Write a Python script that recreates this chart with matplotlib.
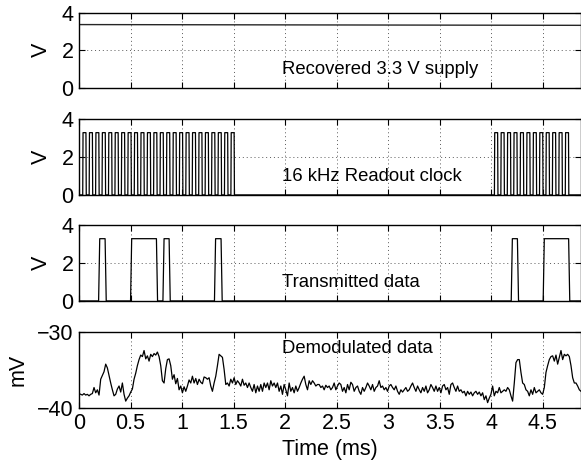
import numpy as np
import matplotlib
matplotlib.use("Agg")
import matplotlib.pyplot as plt

plt.rcParams['font.family'] = ['Liberation Sans', 'DejaVu Sans']
plt.rcParams['font.size'] = 15

# ---------------- data ----------------
x_ticks = [0, 0.5, 1, 1.5, 2, 2.5, 3, 3.5, 4, 4.5]
x_tick_labels = ['0', '0.5', '1', '1.5', '2', '2.5', '3', '3.5', '4', '4.5']
x_max = 4.87

supply_t = [0.0, 4.87]
supply_v = [3.36, 3.32]

clock_high = 3.3
clock_half_period = 0.03125
clock_rising = [0.036, 0.0985, 0.161, 0.2235, 0.286, 0.3485, 0.411, 0.4735,
                0.536, 0.5985, 0.661, 0.7235, 0.786, 0.8485, 0.911, 0.9735,
                1.036, 1.0985, 1.161, 1.2235, 1.286, 1.3485, 1.411, 1.4735,
                4.03, 4.0925, 4.155, 4.2175, 4.28, 4.3425, 4.405, 4.4675,
                4.53, 4.5925, 4.655, 4.7175]

data_high = 3.3
data_start = [0.19, 0.50, 0.814, 1.314, 4.193, 4.503]
data_end = [0.264, 0.762, 0.885, 1.389, 4.264, 4.761]

demod_mv = [
    -38.1, -38.2, -38.3, -38.1, -38.3, -38.2, -38.4, -38.2, -38.1, -37.3,
    -38.0, -37.6, -38.3, -36.2, -35.7, -35.2, -34.2, -34.7, -35.7, -36.7,
    -37.6, -38.4, -38.2, -37.5, -37.1, -37.9, -36.7, -38.2, -39.1, -38.7,
    -38.4, -37.9, -37.5, -36.2, -35.4, -34.4, -33.6, -33.0, -33.2, -32.4,
    -33.5, -33.1, -33.8, -32.9, -33.2, -32.8, -33.0, -32.6, -33.2, -34.4,
    -36.4, -36.7, -34.8, -33.6, -33.5, -34.4, -36.2, -35.6, -36.8, -36.1,
    -37.6, -37.1, -38.0, -37.2, -37.8, -37.1, -36.3, -36.7, -35.8, -36.7,
    -36.1, -36.9, -36.2, -36.6, -36.8, -35.9, -36.0,
    -36.2, -36.0, -37.1, -37.8, -36.7, -35.8, -34.4, -32.9, -33.1, -33.3,
    -34.9, -36.9, -36.7, -37.1, -36.2, -36.7, -36.0, -36.9, -36.4, -36.7,
    -37.1, -36.2, -37.0, -36.7, -37.3, -36.7, -37.3, -37.8, -36.9, -38.0,
    -37.1, -37.8, -36.9, -37.8, -36.7, -37.3, -36.7, -37.6, -36.4, -37.1,
    -36.7, -37.3, -36.7, -37.8, -37.1, -38.2, -36.9, -37.6, -38.4, -36.7,
    -37.8, -37.3, -38.0, -37.1, -37.8, -37.3, -36.7, -36.2, -35.8, -36.9,
    -37.6, -36.4, -36.9, -36.4, -36.7, -37.1, -36.9, -36.9, -37.3, -37.1,
    -37.6, -37.0, -37.3, -37.1, -37.6,
    -37.3, -36.7, -37.6, -37.1, -36.7, -36.9, -37.8, -37.3, -38.0, -36.9,
    -37.6, -36.6, -36.9, -37.8, -37.3, -37.1, -37.8, -38.2, -37.3, -37.8,
    -37.3, -36.7, -37.1, -37.6, -36.9, -37.8, -37.3, -37.1, -36.4, -37.3,
    -37.1, -37.6, -37.3, -37.8, -37.1, -36.9, -37.3, -37.6, -37.1, -37.8,
    -38.2, -37.6, -37.9, -37.6, -37.3, -37.8, -37.6, -37.1, -36.7, -37.3,
    -37.8, -37.1, -37.6, -38.0, -37.3, -37.8, -37.1, -38.0, -37.6, -36.9,
    -37.3, -37.8, -37.1, -37.8, -37.3, -38.0, -37.1, -36.9, -37.6, -37.3,
    -38.2, -36.9, -36.7, -37.3, -37.8, -37.1,
    -37.8, -37.6, -38.0, -37.8, -38.4, -37.8, -38.2, -37.9, -38.4, -38.0,
    -37.8, -38.2, -37.9, -38.4, -38.0, -38.9, -38.4, -39.3, -38.7, -38.2,
    -37.1, -38.4, -37.8, -38.0, -37.3, -38.0, -37.8, -37.6, -37.8, -37.3,
    -37.6, -38.4, -39.1, -36.7, -34.0, -33.6, -33.6, -35.3, -36.7, -36.9,
    -37.6, -37.8, -38.4, -37.6, -38.2, -37.3, -38.0, -37.8, -37.6, -38.0,
    -38.2, -37.3, -35.3, -34.4, -33.6, -33.2, -33.1, -33.8, -33.0, -34.2,
    -33.3, -32.4, -33.6, -32.9, -33.1, -32.9, -33.2, -34.4, -36.0, -36.7,
    -36.7, -37.1, -37.6, -37.8,
]

labels = ['Recovered 3.3 V supply', '16 kHz Readout clock',
          'Transmitted data', 'Demodulated data']

# ---------------- build waveforms ----------------
def square_wave(rising, width, high, edge):
    t = [0.0]
    v = [0.0]
    for r in rising:
        t += [r, r + edge, r + width, r + width + edge]
        v += [0.0, high, high, 0.0]
    t.append(x_max)
    v.append(0.0)
    return np.array(t), np.array(v)

def pulses(starts, ends, high, edge):
    t = [0.0]
    v = [0.0]
    for s, e in zip(starts, ends):
        t += [s, s + edge, e - edge, e]
        v += [0.0, high, high, 0.0]
    t.append(x_max)
    v.append(0.0)
    return np.array(t), np.array(v)

clk_t, clk_v = square_wave(clock_rising, clock_half_period, clock_high, 0.003)
dat_t, dat_v = pulses(data_start, data_end, data_high, 0.011)
demod_t = np.linspace(0, x_max, len(demod_mv))

# ---------------- figure ----------------
fig = plt.figure(figsize=(5.81, 4.63), dpi=100)
left = 0.136
width = 1.0 - left
h = 0.163
bottoms = [0.810, 0.579, 0.350, 0.119]
axes = [fig.add_axes([left, b, width, h]) for b in bottoms]

grid_kw = dict(color='0.35', linestyle=(0, (1, 3)), linewidth=0.7)

for i, ax in enumerate(axes):
    ax.set_xlim(0, x_max)
    ax.set_xticks(x_ticks)
    ax.tick_params(direction='in', top=True, right=True, length=4,
                   width=0.8, labelsize=15.5, pad=4)
    for s in ax.spines.values():
        s.set_linewidth(1.0)
    ax.grid(True, **grid_kw)
    if i < 3:
        ax.set_ylim(0, 4)
        ax.set_yticks([0, 2, 4])
        ax.set_ylabel('V', fontsize=15.5)
        ax.yaxis.set_label_coords(-0.054, 0.5)
        ax.set_xticklabels([])
    else:
        ax.set_ylim(-40, -30)
        ax.set_yticks([-40, -30])
        ax.set_yticklabels(['\u221240', '\u221230'])
        ax.set_ylabel('mV', fontsize=15.5)
        ax.yaxis.set_label_coords(-0.10, 0.5)
        ax.set_xticklabels(x_tick_labels)
        ax.set_xlabel('Time (ms)', fontsize=15.5, labelpad=3)

axes[0].plot(supply_t, supply_v, color='0.15', linewidth=1.0)
axes[1].plot(clk_t, clk_v, color='black', linewidth=0.9)
axes[2].plot(dat_t, dat_v, color='black', linewidth=0.9)
axes[3].plot(demod_t, demod_mv, color='black', linewidth=0.9)

text_y = [1.0, 0.95, 1.0, -32.1]
for ax, lab, ty in zip(axes, labels, text_y):
    ax.text(1.97, ty, lab, fontsize=13.3, ha='left', va='center')

fig.savefig('out.png', dpi=100)
